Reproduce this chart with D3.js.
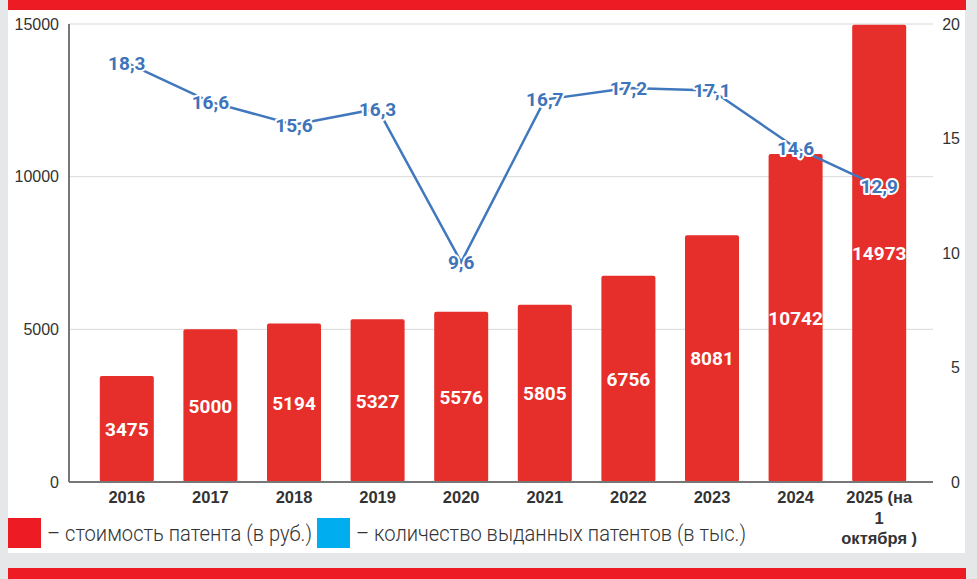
<!DOCTYPE html>
<html>
<head>
<meta charset="utf-8">
<script src="https://cdn.jsdelivr.net/npm/d3@7"></script>
<style>
  body { margin: 0; background: #e6e7e9; }
  svg { display: block; }
</style>
</head>
<body>
<div class="canvas"></div>
<script>
// data
const years = ['2016','2017','2018','2019','2020','2021','2022','2023','2024','2025'];
const yearLabels = ['2016','2017','2018','2019','2020','2021','2022','2023','2024','2025 (на|1|октября )'];
const cost = [3475, 5000, 5194, 5327, 5576, 5805, 6756, 8081, 10742, 14973];
const issued = [18.3, 16.6, 15.6, 16.3, 9.6, 16.7, 17.2, 17.1, 14.6, 12.9];
const leftTicks = [0, 5000, 10000, 15000];
const rightTicks = [0, 5, 10, 15, 20];
const legendItems = ['– стоимость патента (в руб.)', '– количество выданных патентов (в тыс.)'];

const W = 977, H = 579;
const svg = d3.select('.canvas')
    .append('svg')
        .attr('width', W)
        .attr('height', H);

// page frame
svg.append('rect').attr('width', W).attr('height', H).attr('fill', '#e6e7e9');
svg.append('rect').attr('x', 8).attr('y', 10).attr('width', 957).attr('height', 543).attr('fill', '#fff');
svg.append('rect').attr('x', 8).attr('y', 0).attr('width', 958).attr('height', 10).attr('fill', '#ed1c24');
svg.append('rect').attr('x', 8).attr('y', 568).attr('width', 958).attr('height', 11).attr('fill', '#ed1c24');

const plotLeft = 69, plotRight = 933, plotTop = 24, plotBottom = 482;

const x = d3.scaleBand()
    .domain(years)
    .range([85, 921])
    .paddingInner(0.354)
    .paddingOuter(0.177);

const y = d3.scaleLinear()
    .domain([0, 15000])
    .range([plotBottom, plotTop]);

const y2 = d3.scaleLinear()
    .domain([0, 20])
    .range([plotBottom, plotTop]);

const font = '"Liberation Sans", Arial, sans-serif';

// gridlines
svg.append('g')
    .selectAll('line')
    .data(leftTicks.filter(d => d > 0))
    .enter().append('line')
        .attr('x1', plotLeft).attr('x2', plotRight)
        .attr('y1', d => y(d)).attr('y2', d => y(d))
        .attr('stroke', '#d9d9d9')
        .attr('stroke-width', 1);

// left axis
const yAxisGroup = svg.append('g').attr('transform', `translate(${plotLeft},0)`);
yAxisGroup.call(d3.axisLeft(y).tickValues(leftTicks).tickFormat(d3.format('d')).tickSize(0).tickPadding(10));
yAxisGroup.select('.domain').remove();
yAxisGroup.selectAll('text')
    .attr('font-family', font).attr('font-size', 16).attr('fill', '#333');
svg.append('line')
    .attr('x1', plotLeft).attr('x2', plotLeft)
    .attr('y1', plotTop).attr('y2', plotBottom)
    .attr('stroke', '#777').attr('stroke-width', 2);

// right axis
const y2AxisGroup = svg.append('g').attr('transform', `translate(${plotRight},0)`);
y2AxisGroup.call(d3.axisRight(y2).tickValues(rightTicks).tickSize(0));
y2AxisGroup.select('.domain').remove();
y2AxisGroup.selectAll('text')
    .attr('x', 27)
    .attr('text-anchor', 'end')
    .attr('font-family', font).attr('font-size', 16).attr('fill', '#333');

// bars
const bars = svg.append('g');
bars.selectAll('rect')
    .data(cost)
    .enter().append('rect')
        .attr('x', (d, i) => x(years[i]))
        .attr('y', d => y(d))
        .attr('width', x.bandwidth())
        .attr('height', d => y(0) - y(d))
        .attr('rx', 2)
        .attr('fill', '#e62e2a');

bars.selectAll('text')
    .data(cost)
    .enter().append('text')
        .attr('x', (d, i) => x(years[i]) + x.bandwidth() / 2)
        .attr('y', d => (y(d) + y(0)) / 2)
        .attr('dy', '0.36em')
        .attr('text-anchor', 'middle')
        .attr('font-family', 'Roboto, sans-serif')
        .attr('font-weight', 700)
        .attr('font-size', 19)
        .attr('fill', '#fff')
        .text(d => d);

// bottom axis line
svg.append('line')
    .attr('x1', plotLeft).attr('x2', plotRight)
    .attr('y1', plotBottom).attr('y2', plotBottom)
    .attr('stroke', '#777').attr('stroke-width', 2);

// x labels
const xAxisGroup = svg.append('g').attr('transform', `translate(0,${plotBottom})`);
xAxisGroup.call(d3.axisBottom(x).tickSize(0).tickFormat(''));
xAxisGroup.select('.domain').remove();
xAxisGroup.selectAll('.tick text')
    .attr('font-family', font).attr('font-size', 16.5).attr('font-weight', 700).attr('fill', '#333')
    .attr('y', 0).attr('dy', null)
    .each(function(d, i) {
        const lines = yearLabels[i].split('|');
        d3.select(this).selectAll('tspan')
            .data(lines)
            .enter().append('tspan')
                .attr('x', 0)
                .attr('y', (l, j) => 21 + j * 20.5)
                .text(l => l);
    });

// line
const line = d3.line()
    .x((d, i) => x(years[i]) + x.bandwidth() / 2)
    .y(d => y2(d));

svg.append('path')
    .datum(issued)
    .attr('d', line)
    .attr('fill', 'none')
    .attr('stroke', '#4178bd')
    .attr('stroke-width', 2.5);

svg.append('g').selectAll('text')
    .data(issued)
    .enter().append('text')
        .attr('x', (d, i) => x(years[i]) + x.bandwidth() / 2)
        .attr('y', d => y2(d))
        .attr('dy', '0.36em')
        .attr('text-anchor', 'middle')
        .attr('font-family', 'Roboto, sans-serif')
        .attr('font-weight', 700)
        .attr('font-size', 19)
        .attr('fill', '#3d74ba')
        .attr('stroke', '#fff')
        .attr('stroke-width', 4)
        .attr('stroke-linejoin', 'round')
        .attr('paint-order', 'stroke')
        .text(d => d3.format('.1f')(d).replace('.', ','));

// legend
const legendColors = ['#ed1c24', '#00aeef'];
const legendX = [8, 317];
const legendW = [265, 390];
const legend = svg.append('g');
legendItems.forEach((t, i) => {
    legend.append('rect')
        .attr('x', legendX[i]).attr('y', 518)
        .attr('width', 33).attr('height', 30)
        .attr('fill', legendColors[i]);
    legend.append('text')
        .attr('x', legendX[i] + 39).attr('y', 533)
        .attr('dy', '0.35em')
        .attr('font-family', 'Roboto, sans-serif')
        .attr('font-weight', 300)
        .attr('font-size', 22)
        .attr('fill', '#333')
        .attr('textLength', legendW[i])
        .attr('lengthAdjust', 'spacingAndGlyphs')
        .text(t);
});
</script>
</body>
</html>
